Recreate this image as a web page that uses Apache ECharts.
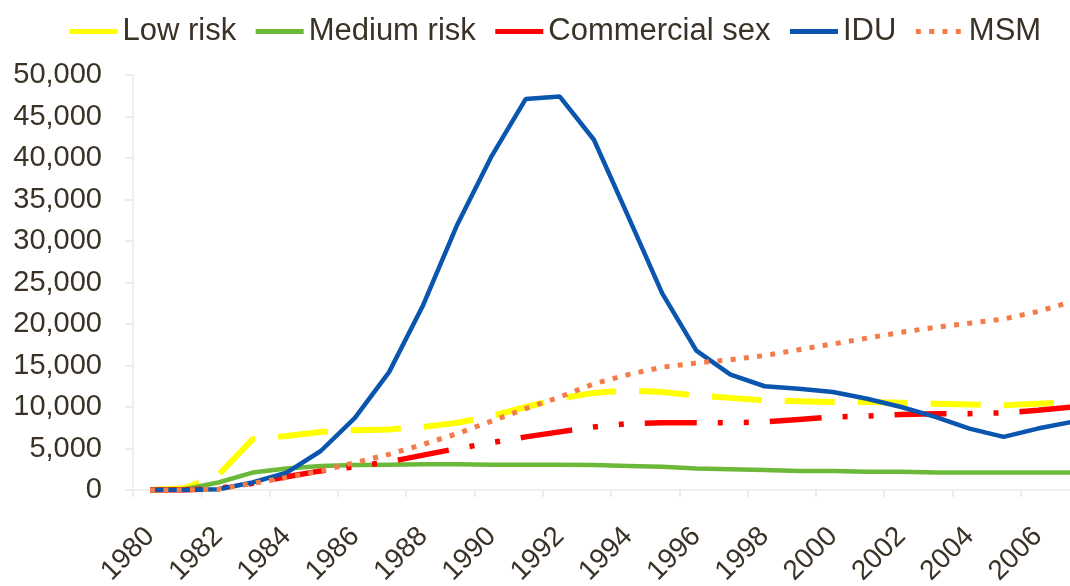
<!DOCTYPE html>
<html>
<head>
<meta charset="utf-8">
<script src="https://cdn.jsdelivr.net/npm/echarts@6/dist/echarts.min.js"></script>
<style>
  html, body { margin: 0; padding: 0; background: #fff; }
  #chart { width: 1070px; height: 586px; }
</style>
</head>
<body>
<div id="chart"></div>
<script>
// years on the x axis
var years = ['1980', '1981', '1982', '1983', '1984', '1985', '1986', '1987', '1988', '1989',
  '1990', '1991', '1992', '1993', '1994', '1995', '1996', '1997', '1998', '1999',
  '2000', '2001', '2002', '2003', '2004', '2005', '2006', '2007']

var lowRisk = [0, 200, 1800, 6100, 6500, 7000, 7200, 7300, 7600, 8100,
  8900, 10000, 11000, 11700, 12000, 11800, 11400, 11100, 10800, 10700,
  10600, 10600, 10500, 10400, 10300, 10200, 10400, 10600]
var mediumRisk = [0, 100, 900, 2100, 2600, 2900, 3000, 3050, 3100, 3100,
  3050, 3050, 3050, 3000, 2900, 2800, 2600, 2500, 2400, 2300,
  2300, 2200, 2200, 2100, 2100, 2100, 2100, 2100]
var commercialSex = [0, 0, 200, 800, 1600, 2300, 2800, 3400, 4200, 5000,
  5700, 6400, 7000, 7600, 8000, 8100, 8100, 8100, 8200, 8500,
  8800, 8900, 9100, 9200, 9200, 9300, 9600, 10000]
var idu = [0, 0, 100, 900, 2100, 4700, 8700, 14200, 22300, 32000,
  40200, 47100, 47400, 42200, 33000, 23700, 16800, 13900, 12500, 12200,
  11800, 11000, 10000, 8800, 7400, 6400, 7400, 8200]
var msm = [0, 0, 100, 800, 1500, 2300, 3300, 4300, 5500, 6800,
  8300, 9800, 11200, 12800, 13900, 14800, 15300, 15700, 16200, 16900,
  17600, 18300, 19000, 19600, 20100, 20600, 21500, 22700]

var textColor = '#3a3226'
var myChart = echarts.init(document.getElementById('chart'))

var option = {
  animation: false,
  textStyle: { fontFamily: 'Liberation Sans, Arial, sans-serif' },
  legend: {
    left: 62,
    top: 11,
    itemWidth: 48,
    itemHeight: 14,
    itemGap: 17,
    itemStyle: { opacity: 0 },
    textStyle: { color: textColor, fontSize: 31 },
    data: [
      { name: 'Low risk', lineStyle: { type: 'solid', width: 5 } },
      { name: 'Medium risk', lineStyle: { width: 5 } },
      { name: 'Commercial sex', lineStyle: { type: 'solid', width: 5 } },
      { name: 'IDU', lineStyle: { width: 5 } },
      { name: 'MSM', lineStyle: { width: 5 } }
    ]
  },
  grid: {
    left: 133,
    top: 75,
    width: 956,
    bottom: 96,
    outerBoundsMode: 'none'
  },
  xAxis: {
    type: 'category',
    data: years,
    boundaryGap: true,
    axisLine: { lineStyle: { color: '#f0f0f0', width: 2 } },
    axisTick: { show: true, length: 7, lineStyle: { color: '#ececec', width: 2 } },
    axisLabel: {
      interval: 1,
      rotate: 45,
      margin: 42,
      color: textColor,
      fontSize: 28
    }
  },
  yAxis: {
    type: 'value',
    min: 0,
    max: 50000,
    interval: 5000,
    axisLine: { show: true, lineStyle: { color: '#f0f0f0', width: 2 } },
    axisTick: { show: true, length: 8, lineStyle: { color: '#ececec', width: 2 } },
    splitLine: { show: false },
    axisLabel: {
      margin: 31,
      color: textColor,
      fontSize: 29,
      formatter: function (v) {
        return v.toString().replace(/\B(?=(\d{3})+(?!\d))/g, ',')
      }
    }
  },
  series: [
    {
      name: 'Low risk',
      type: 'line',
      symbol: 'none',
      data: lowRisk,
      color: '#ffff00',
      lineStyle: { color: '#ffff00', width: 6, type: [50, 23], cap: 'butt' }
    },
    {
      name: 'Medium risk',
      type: 'line',
      symbol: 'none',
      data: mediumRisk,
      color: '#6cb93a',
      lineStyle: { color: '#6cb93a', width: 4.5 }
    },
    {
      name: 'Commercial sex',
      type: 'line',
      symbol: 'none',
      data: commercialSex,
      color: '#ff0000',
      lineStyle: { color: '#ff0000', width: 5.5, type: [52, 21, 5, 21, 5, 21], cap: 'butt' }
    },
    {
      name: 'IDU',
      type: 'line',
      symbol: 'none',
      data: idu,
      color: '#0a55ad',
      lineStyle: { color: '#0a55ad', width: 4.5 }
    },
    {
      name: 'MSM',
      type: 'line',
      symbol: 'none',
      data: msm,
      color: '#f47b4a',
      lineStyle: { color: '#f47b4a', width: 5, type: [5, 8.3], cap: 'butt' }
    }
  ]
}
myChart.setOption(option)
</script>
</body>
</html>
